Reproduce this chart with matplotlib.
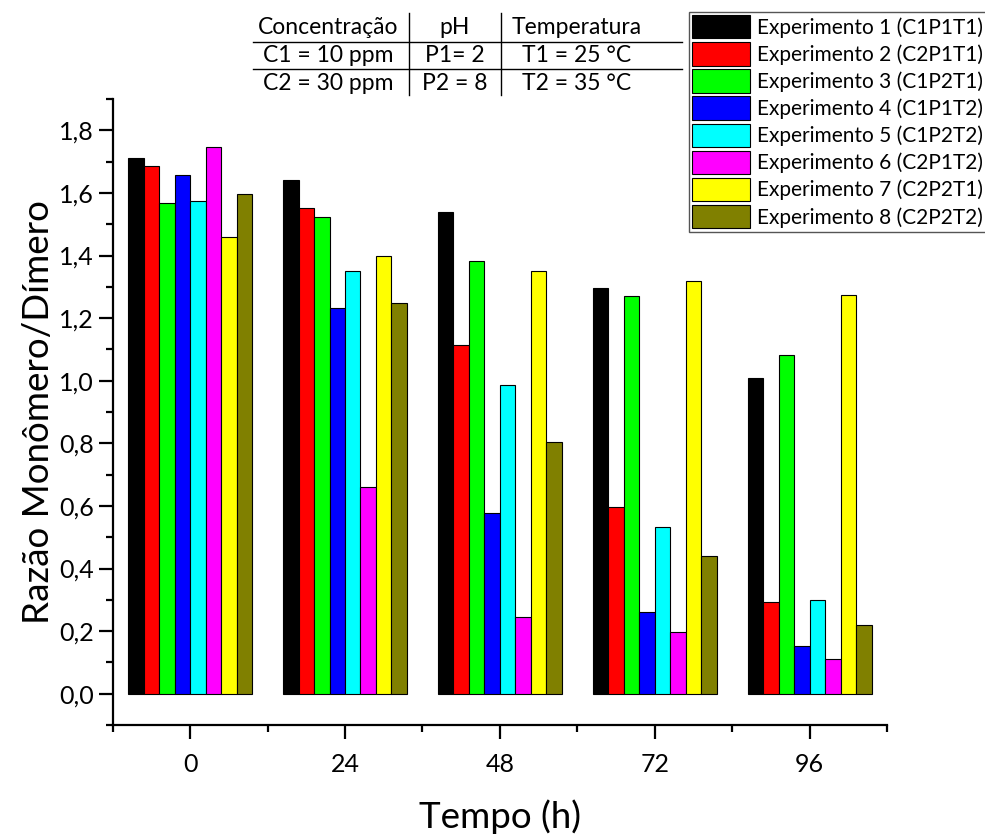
import numpy as np
import matplotlib.pyplot as plt
from matplotlib.ticker import MultipleLocator, FuncFormatter
from matplotlib.lines import Line2D

plt.rcParams['font.family'] = ['Lato', 'DejaVu Sans']

# dados
tempos = ['0', '24', '48', '72', '96']
experimentos = ['Experimento 1 (C1P1T1)', 'Experimento 2 (C2P1T1)', 'Experimento 3 (C1P2T1)',
                'Experimento 4 (C1P1T2)', 'Experimento 5 (C1P2T2)', 'Experimento 6 (C2P1T2)',
                'Experimento 7 (C2P2T1)', 'Experimento 8 (C2P2T2)']
cores = ['#000000', '#ff0000', '#00ff00', '#0000ff', '#00ffff', '#ff00ff', '#ffff00', '#808000']

exp1 = [1.712, 1.640, 1.539, 1.295, 1.010]
exp2 = [1.685, 1.552, 1.113, 0.597, 0.294]
exp3 = [1.568, 1.523, 1.383, 1.271, 1.081]
exp4 = [1.658, 1.233, 0.577, 0.260, 0.151]
exp5 = [1.573, 1.351, 0.987, 0.534, 0.299]
exp6 = [1.747, 0.661, 0.246, 0.196, 0.112]
exp7 = [1.460, 1.397, 1.349, 1.317, 1.275]
exp8 = [1.596, 1.248, 0.803, 0.441, 0.221]
valores = [exp1, exp2, exp3, exp4, exp5, exp6, exp7, exp8]

# tabela de condições
tab_cabecalho = ['Concentração', 'pH', 'Temperatura']
tab_linha1 = ['C1 = 10 ppm', 'P1= 2', 'T1 = 25 °C']
tab_linha2 = ['C2 = 30 ppm', 'P2 = 8', 'T2 = 35 °C']

W, H = 985, 839
fig = plt.figure(figsize=(W / 100, H / 100), dpi=100)
ax = fig.add_axes([112.7 / W, 1 - 725 / H, (887 - 112.7) / W, (725 - 99) / H])

x = np.arange(len(tempos))
largura = 0.1
for i, (serie, cor, nome) in enumerate(zip(valores, cores, experimentos)):
    ax.bar(x + (i - 3.5) * largura, serie, largura, color=cor, edgecolor='black',
           linewidth=0.8, label=nome)

ax.set_xlim(-0.5, 4.5)
ax.set_ylim(-0.1, 1.9)
ax.set_xticks(x)
ax.set_xticklabels(tempos)
ax.xaxis.set_minor_locator(MultipleLocator(1, offset=0.5))
ax.yaxis.set_minor_locator(MultipleLocator(0.1))
ax.set_yticks([0, 0.2, 0.4, 0.6, 0.8, 1.0, 1.2, 1.4, 1.6, 1.8])
ax.yaxis.set_major_formatter(FuncFormatter(lambda v, p: f'{v:.1f}'.replace('.', ',').replace('-0,0', '0,0')))

for s in ['top', 'right']:
    ax.spines[s].set_visible(False)
for s in ['left', 'bottom']:
    ax.spines[s].set_linewidth(1.6)
ax.tick_params(which='major', length=10, width=1.6, labelsize=18, direction='out')
ax.tick_params(which='minor', length=5, width=1.6, direction='out')
ax.tick_params(axis='x', pad=10)

ax.set_ylabel('Razão Monômero/Dímero', fontsize=26.5, labelpad=3)
ax.set_xlabel('Tempo (h)', fontsize=26.5, labelpad=17)

fig.legend(loc='upper left', bbox_to_anchor=(689 / W, 1 - 11.7 / H), borderaxespad=0,
           fontsize=15, handlelength=2.75, handleheight=1.35, labelspacing=0.18,
           handletextpad=0.35, borderpad=0.16, fancybox=False, edgecolor='#555555',
           framealpha=1)

# tabela no topo
col_x = [328, 455, 577]
lin_y = [27, 56, 84]
for linha, yy in zip([tab_cabecalho, tab_linha1, tab_linha2], lin_y):
    for txt, xx in zip(linha, col_x):
        fig.text(xx / W, 1 - yy / H, txt, ha='center', va='center', fontsize=16.5)
for yy in [41.7, 69.3]:
    fig.add_artist(Line2D([253 / W, 682 / W], [1 - yy / H, 1 - yy / H], color='black', lw=1))
for xx in [409, 501]:
    fig.add_artist(Line2D([xx / W, xx / W], [1 - 13 / H, 1 - 95 / H], color='black', lw=1))

fig.savefig('out.png', dpi=100)
